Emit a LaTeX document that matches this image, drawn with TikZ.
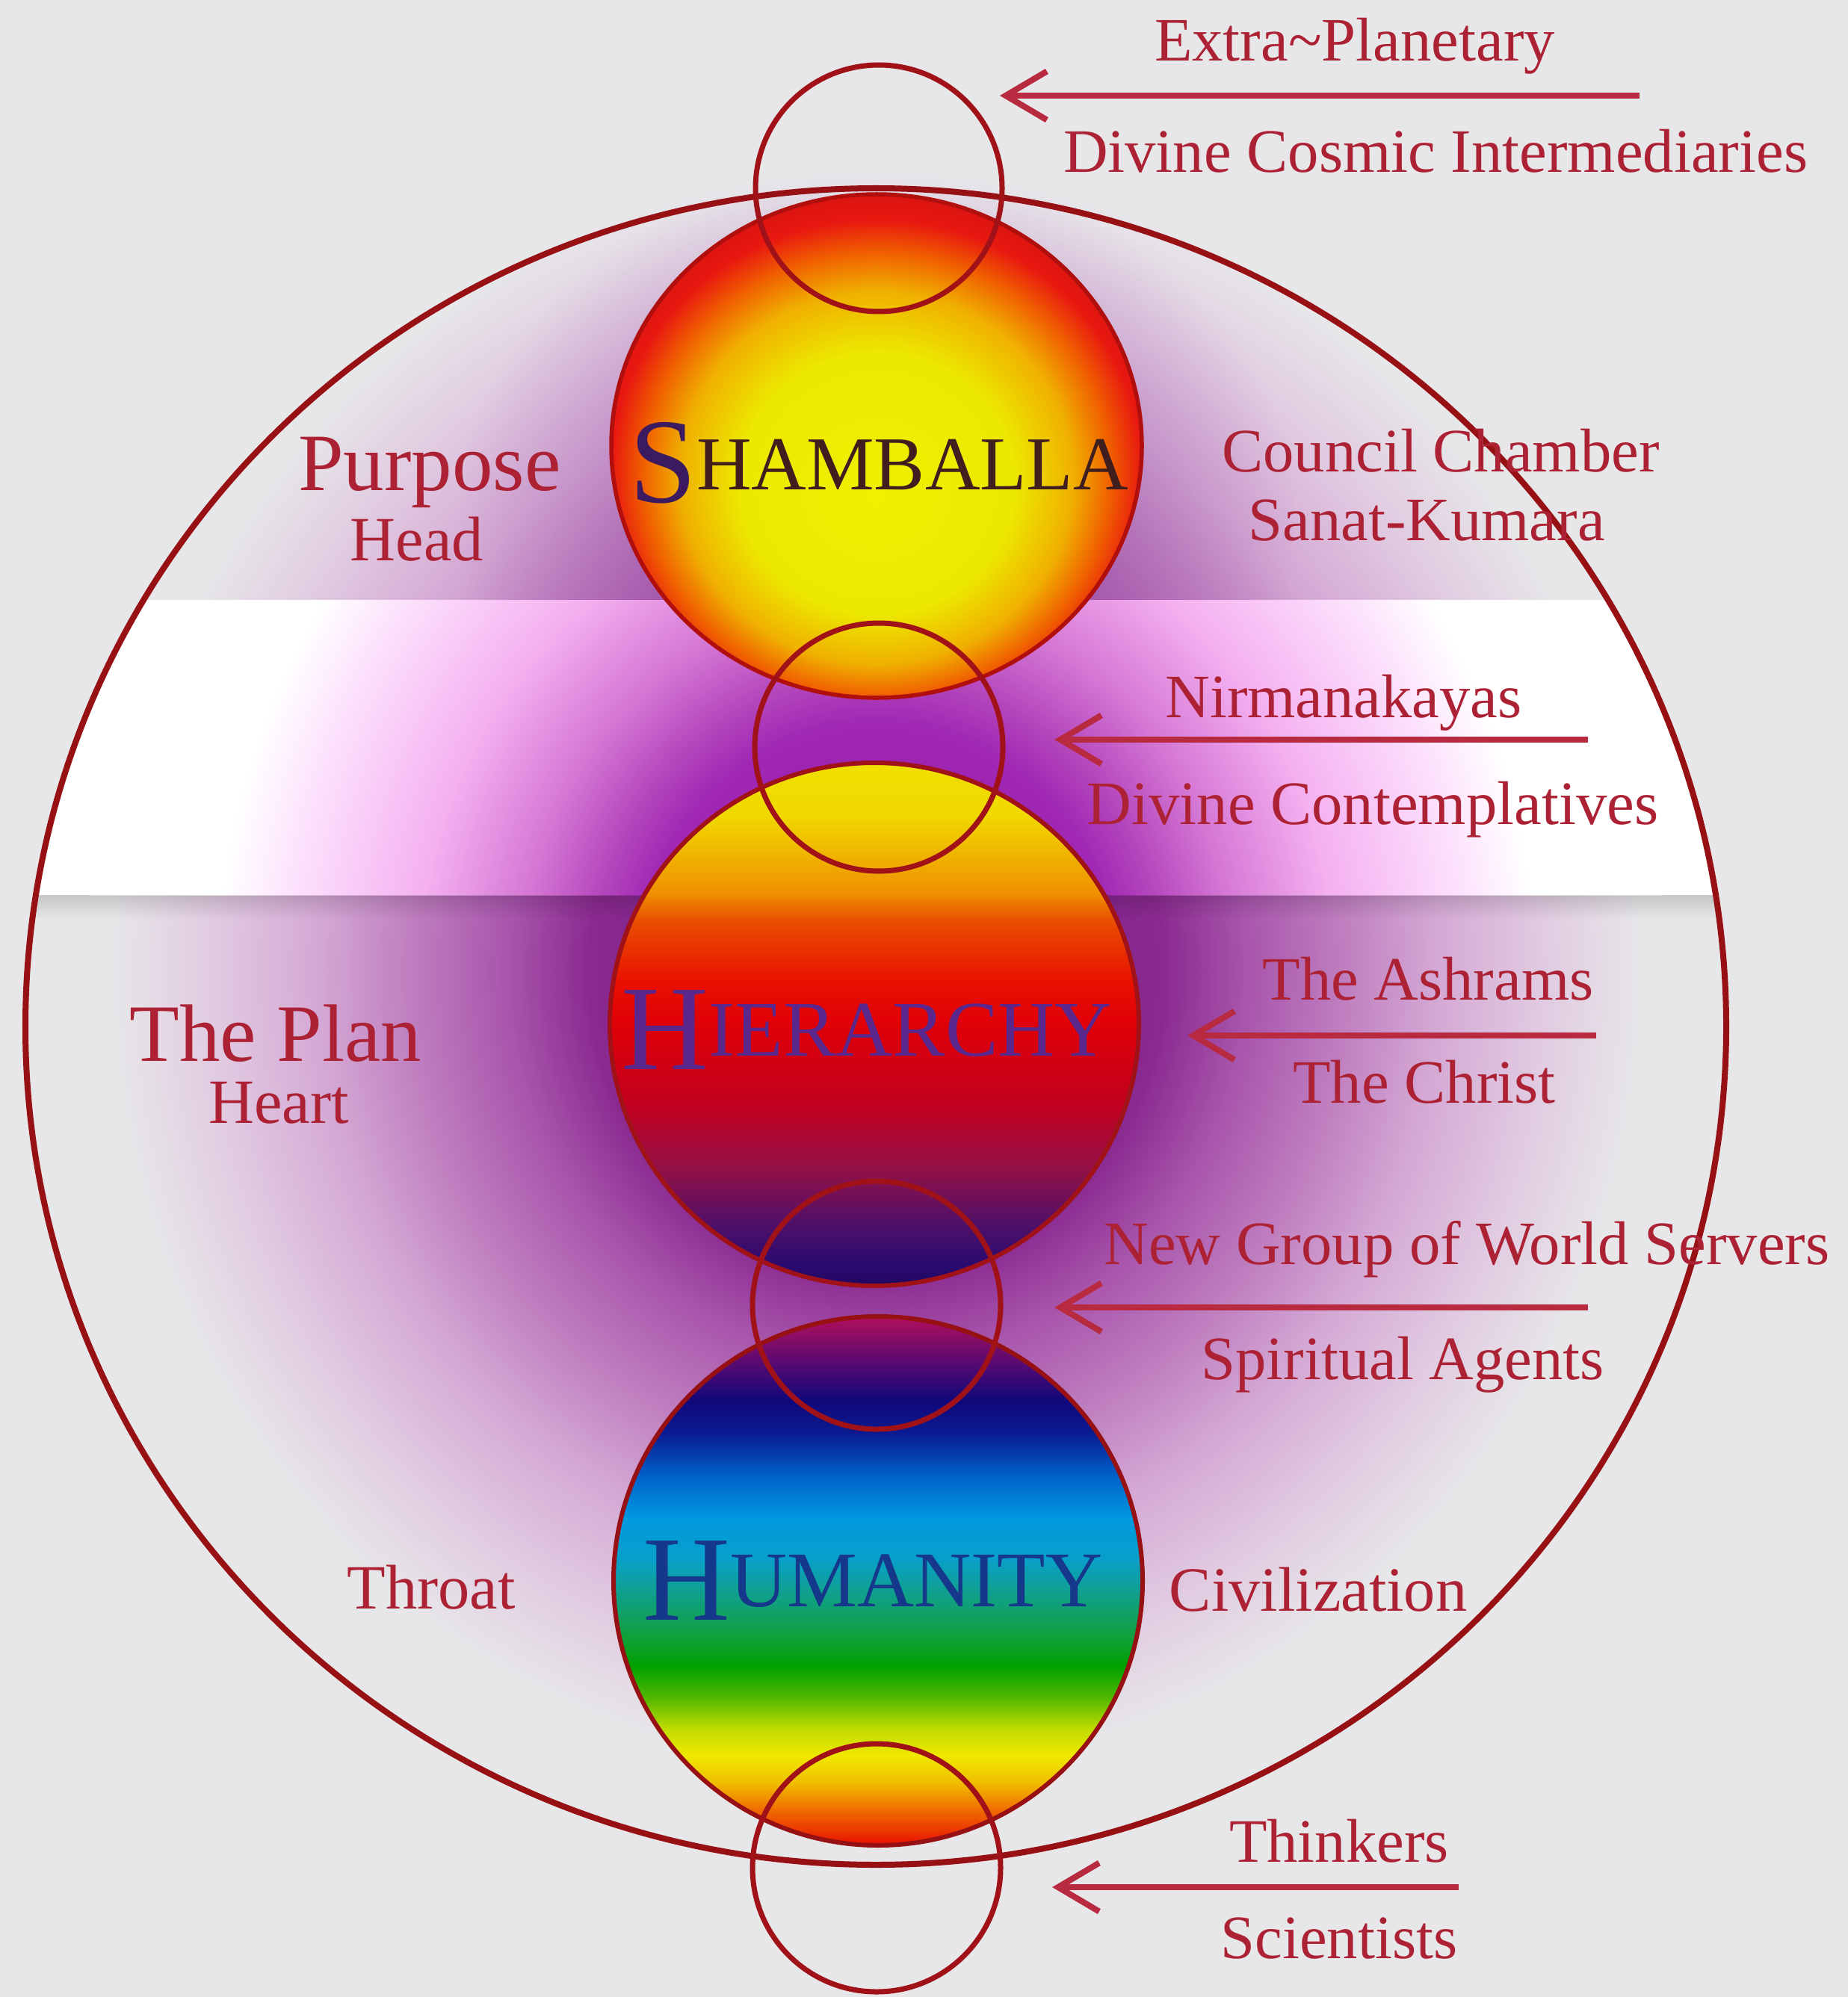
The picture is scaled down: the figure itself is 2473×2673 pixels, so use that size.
\documentclass[tikz,border=0pt]{standalone}
\usepackage{fontspec}
\setmainfont{Liberation Serif}
\usetikzlibrary{arrows.meta,fadings}

\definecolor{bgc}{RGB}{231,231,233}
\definecolor{lblc}{RGB}{172,34,52}
\definecolor{arrc}{RGB}{184,42,64}
\definecolor{ellc}{RGB}{150,16,20}
\definecolor{ringc}{RGB}{160,18,24}
% main glow
\definecolor{gm0}{RGB}{112,24,136}
\definecolor{gm1}{RGB}{138,42,144}
\definecolor{gm2}{RGB}{168,85,172}
\definecolor{gm3}{RGB}{192,128,192}
\definecolor{gm4}{RGB}{212,168,212}
\definecolor{gm5}{RGB}{224,200,224}
\definecolor{haloc}{RGB}{130,50,150}
% band glow
\definecolor{gb0}{RGB}{138,16,160}
\definecolor{gb1}{RGB}{160,40,180}
\definecolor{gb2}{RGB}{180,70,188}
\definecolor{gb3}{RGB}{212,118,212}
\definecolor{gb4}{RGB}{244,176,240}
\definecolor{gb5}{RGB}{252,224,252}
% shamballa
\definecolor{sa0}{RGB}{240,240,0}
\definecolor{sa1}{RGB}{236,232,0}
\definecolor{sa2}{RGB}{240,176,0}
\definecolor{sa3}{RGB}{240,96,0}
\definecolor{sa4}{RGB}{232,24,16}
\definecolor{sa5}{RGB}{208,16,16}
% hierarchy
\definecolor{hi0}{RGB}{240,224,0}
\definecolor{hi1}{RGB}{240,216,0}
\definecolor{hi2}{RGB}{240,144,0}
\definecolor{hi3}{RGB}{232,80,0}
\definecolor{hi4}{RGB}{232,16,0}
\definecolor{hi5}{RGB}{224,0,8}
\definecolor{hi6}{RGB}{192,0,32}
\definecolor{hi7}{RGB}{144,16,72}
\definecolor{hi8}{RGB}{80,16,104}
\definecolor{hi9}{RGB}{42,10,112}
\definecolor{hi10}{RGB}{32,8,96}
% humanity
\definecolor{hu0}{RGB}{176,16,90}
\definecolor{hu1}{RGB}{96,10,112}
\definecolor{hu2}{RGB}{16,8,122}
\definecolor{hu3}{RGB}{10,26,144}
\definecolor{hu4}{RGB}{0,96,200}
\definecolor{hu5}{RGB}{0,152,224}
\definecolor{hu6}{RGB}{8,160,200}
\definecolor{hu7}{RGB}{16,160,144}
\definecolor{hu8}{RGB}{16,160,64}
\definecolor{hu9}{RGB}{0,160,0}
\definecolor{hu10}{RGB}{80,184,0}
\definecolor{hu11}{RGB}{192,220,0}
\definecolor{hu12}{RGB}{240,232,0}
\definecolor{hu13}{RGB}{240,192,0}
\definecolor{hu14}{RGB}{240,112,0}
\definecolor{hu15}{RGB}{232,16,0}
% label colours of the spheres
\definecolor{shtxt}{RGB}{64,30,30}
\definecolor{shS}{RGB}{60,26,96}
\definecolor{hitxt}{RGB}{90,40,140}
\definecolor{hutxt}{RGB}{21,56,138}

\pgfdeclareradialshading{glowmain}{\pgfpoint{0bp}{0bp}}{%
 color(0bp)=(gm0); color(9.1bp)=(gm1); color(11.7bp)=(gm2); color(14.9bp)=(gm3);
 color(17.7bp)=(gm4); color(20.8bp)=(gm5); color(24.3bp)=(bgc);
 color(50bp)=(bgc)}
\pgfdeclareradialshading{glowband}{\pgfpoint{0bp}{0bp}}{%
 color(0bp)=(gb0); color(7.5bp)=(gb1); color(9bp)=(gb2); color(11.2bp)=(gb3);
 color(14.5bp)=(gb4); color(18.5bp)=(gb5); color(20.8bp)=(white);
 color(50bp)=(white)}
\pgfdeclareradialshading{shambshade}{\pgfpoint{0bp}{-5bp}}{%
 color(0bp)=(sa0); color(13bp)=(sa1); color(18.5bp)=(sa2); color(22bp)=(sa3);
 color(25bp)=(sa4); color(29bp)=(sa5); color(50bp)=(sa5)}
\pgfdeclareverticalshading{hiershade}{100bp}{%
 color(0bp)=(hi10); color(25bp)=(hi10); color(27bp)=(hi9); color(31bp)=(hi8);
 color(36bp)=(hi7); color(42bp)=(hi6); color(50bp)=(hi5); color(54bp)=(hi4);
 color(60bp)=(hi3); color(62.5bp)=(hi2); color(70bp)=(hi1); color(75bp)=(hi0);
 color(100bp)=(hi0)}
\pgfdeclareverticalshading{humanshade}{100bp}{%
 color(0bp)=(hu15); color(25bp)=(hu15); color(28.5bp)=(hu14); color(31bp)=(hu13);
 color(33.5bp)=(hu12); color(36bp)=(hu11); color(39bp)=(hu10); color(42bp)=(hu9);
 color(45bp)=(hu8); color(49bp)=(hu7); color(52bp)=(hu6); color(56bp)=(hu5);
 color(60bp)=(hu4); color(64bp)=(hu3); color(67bp)=(hu2); color(71bp)=(hu1);
 color(75bp)=(hu0); color(100bp)=(hu0)}

\tikzfading[name=shadowfade, top color=transparent!0, bottom color=transparent!100]
\tikzfading[name=halofade, inner color=transparent!40, outer color=transparent!100]

\begin{document}
\begin{tikzpicture}[x=0.01cm,y=-0.01cm,
  lbl/.style={text=lblc, font=\fontsize{23.5}{28}\selectfont, anchor=base, inner sep=0pt},
  biglbl/.style={lbl, font=\fontsize{31}{36}\selectfont},
  midlbl/.style={lbl, font=\fontsize{24}{28}\selectfont},
  arr/.style={draw=arrc, line width=0.8mm, -{Straight Barb[length=5.5mm,width=6.5mm]}},
  ring/.style={draw=ringc, line width=0.7mm},
  sphlbl/.style={anchor=base, inner sep=0pt},
]
\useasboundingbox (0,0) rectangle (2473,2673);
\fill[bgc] (0,0) rectangle (2473,2673);

% purple glow
\shade[shading=glowmain] (1173,1300) ellipse [x radius=1057, y radius=1108];
\begin{scope}
  \clip (1172,1374) ellipse [x radius=1138, y radius=1122];
  \fill[haloc, path fading=halofade] (1173,700) ellipse [x radius=560, y radius=470];
\end{scope}

% white band inside the big ellipse
\begin{scope}
  \clip (1172,1374) ellipse [x radius=1138, y radius=1122];
  \fill[white] (0,803) rectangle (2473,1198);
  \begin{scope}
    \clip (0,803) rectangle (2473,1198);
    \shade[shading=glowband] (1173,1300) ellipse [x radius=1057, y radius=1108];
  \end{scope}
  \fill[black, opacity=0.14, path fading=shadowfade] (0,1198) rectangle (2473,1230);
\end{scope}

% big ellipse
\draw[draw=ellc, line width=0.8mm] (1172,1374) ellipse [x radius=1138, y radius=1122];

% spheres
\shade[shading=shambshade] (1173,597) ellipse [x radius=355, y radius=337];
\draw[draw=sa5!85!black, line width=0.55mm] (1173,597) ellipse [x radius=355, y radius=337];
\shade[shading=hiershade] (1170,1371) ellipse [x radius=354, y radius=350];
\draw[draw=ringc, line width=0.6mm] (1170,1371) ellipse [x radius=354, y radius=350];
\shade[shading=humanshade] (1175,2116) ellipse [x radius=354, y radius=354];
\draw[draw=ellc, line width=0.6mm] (1175,2116) ellipse [x radius=354, y radius=354];

% small linking circles
\draw[ring] (1176,252) circle [radius=165];
\draw[ring] (1176,1000) circle [radius=166];
\draw[ring] (1173,1747) circle [radius=166];
\draw[ring] (1173,2500) circle [radius=166];

% sphere labels
\node[sphlbl, text=shtxt] (shamb) at (1176,655)
  {\raisebox{-1.7mm}{\fontsize{46}{46}\selectfont\color{shS}S}\fontsize{29}{30}\selectfont HAMBALLA};
\node[sphlbl, text=hitxt] (hier) at (1160,1413)
  {\raisebox{-1.8mm}{\fontsize{46}{46}\selectfont H}\fontsize{30}{30}\selectfont IERARCHY};
\node[sphlbl, text=hutxt] (human) at (1168,2150)
  {\raisebox{-1.8mm}{\fontsize{46}{46}\selectfont H}\fontsize{30}{30}\selectfont UMANITY};

% left labels
\node[biglbl] (purpose) at (575,656) {Purpose};
\node[midlbl] (head) at (558,750) {Head};
\node[biglbl] (plan) at (369,1420) {The Plan};
\node[midlbl] (heart) at (373,1503) {Heart};
\node[midlbl] (throat) at (577,2153) {Throat};

% right labels
\node[lbl] (council) at (1928,631) {Council Chamber};
\node[lbl] (sanat) at (1909,723) {Sanat-Kumara};
\node[midlbl] (civil) at (1764,2156) {Civilization};

% arrow labels
\node[lbl] (extra) at (1813,82) {Extra\textasciitilde Planetary};
\node[lbl] (cosmic) at (1921,231) {Divine Cosmic Intermediaries};
\node[lbl] (nirm) at (1798,960) {Nirmanakayas};
\node[lbl] (contem) at (1837,1103) {Divine Contemplatives};
\node[lbl] (ashram) at (1911,1338) {The Ashrams};
\node[lbl] (christ) at (1906,1476) {The Christ};
\node[lbl] (ngws) at (1963,1692) {New Group of World Servers};
\node[lbl] (agents) at (1877,1846) {Spiritual Agents};
\node[lbl] (think) at (1792,2492) {Thinkers};
\node[lbl] (scien) at (1792,2621) {Scientists};

% arrows
\coordinate (a1s) at (2194,128); \coordinate (a1e) at (1338,128);
\coordinate (a2s) at (2125,990); \coordinate (a2e) at (1411,990);
\coordinate (a3s) at (2136,1386); \coordinate (a3e) at (1589,1386);
\coordinate (a4s) at (2125,1750); \coordinate (a4e) at (1411,1750);
\coordinate (a5s) at (1952,2526); \coordinate (a5e) at (1408,2526);
\draw[arr] (a1s) -- (a1e);
\draw[arr] (a2s) -- (a2e);
\draw[arr] (a3s) -- (a3e);
\draw[arr] (a4s) -- (a4e);
\draw[arr] (a5s) -- (a5e);
\end{tikzpicture}
\end{document}
